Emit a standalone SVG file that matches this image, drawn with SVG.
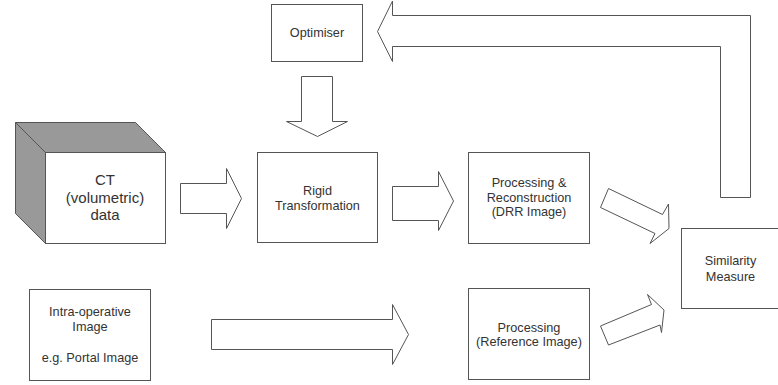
<svg xmlns="http://www.w3.org/2000/svg" width="778" height="385" viewBox="0 0 778 385">
<style>
.box{fill:#fff;stroke:#555;stroke-width:1}
.arr{fill:#fff;stroke:#555;stroke-width:1;stroke-linejoin:miter}
.side{fill:#999;stroke:#555;stroke-width:1}
text{font-family:"Liberation Sans",Arial,sans-serif;font-size:12.7px;fill:#333;text-anchor:middle}
.big{font-size:15px}
</style>
<rect width="778" height="385" fill="#fff"/>
<g id="connectors">
<polygon class="arr" points="180.5,183.5 226.5,183.5 226.5,168.5 241.5,198.5 226.5,228.5 226.5,213.5 180.5,213.5"/>
<polygon class="arr" points="392.5,186.5 438.5,186.5 438.5,171.5 453.5,201 438.5,230.5 438.5,220.5 392.5,220.5"/>
<polygon class="arr" points="301.5,76.5 332.5,76.5 332.5,121.5 347.5,121.5 317.5,136.5 286.5,121.5 301.5,121.5"/>
<polygon class="arr" points="392.5,1 377.5,31.5 392.5,61.5 392.5,46.5 720.5,46.5 720.5,197.5 750.5,197.5 750.5,15.5 392.5,15.5"/>
<polygon class="arr" points="211.5,319.5 392.5,319.5 392.5,304.5 408.5,334.5 392.5,364.5 392.5,349.5 211.5,349.5"/>
<polygon class="arr" points="608.5,188.5 662.5,214.5 668.5,204 669,228.5 650,243.5 655,233.5 600.5,207.5"/>
<polygon class="arr" points="600.5,326 651.5,304.5 647.5,294.5 664,310 661.5,332.5 660,325 608.5,345"/>
</g>
<g id="ct">
<polygon class="side" points="15.5,122.5 135.5,122.5 165.5,152.5 45.5,152.5"/>
<polygon class="side" points="15.5,122.5 45.5,152.5 45.5,243.5 15.5,213.5"/>
<rect class="box" x="45.5" y="152.5" width="120" height="91"/>
<text class="big" x="105" y="185">CT</text>
<text class="big" x="105" y="202.5">(volumetric)</text>
<text class="big" x="105" y="220">data</text>
</g>
<g id="optimiser">
<rect class="box" x="271.5" y="4.5" width="91" height="57"/>
<text x="317" y="36.5">Optimiser</text>
</g>
<g id="rigid">
<rect class="box" x="257.5" y="152.5" width="120" height="90"/>
<text x="317.5" y="195">Rigid</text>
<text x="317.5" y="209.5">Transformation</text>
</g>
<g id="drr">
<rect class="box" x="468.5" y="152.5" width="121" height="91"/>
<text x="529" y="187">Processing &amp;</text>
<text x="529" y="201.5">Reconstruction</text>
<text x="529" y="216">(DRR Image)</text>
</g>
<g id="intra">
<rect class="box" x="29.5" y="289.5" width="121" height="91"/>
<text x="90" y="316">Intra-operative</text>
<text x="90" y="331">Image</text>
<text x="90" y="361.5">e.g. Portal Image</text>
</g>
<g id="reference">
<rect class="box" x="468.5" y="288.5" width="121" height="91"/>
<text x="529" y="331.5">Processing</text>
<text x="529" y="346">(Reference Image)</text>
</g>
<g id="similarity">
<rect class="box" x="681.5" y="228.5" width="100" height="80"/>
<text x="730.5" y="265">Similarity</text>
<text x="730.5" y="281">Measure</text>
</g>
</svg>
